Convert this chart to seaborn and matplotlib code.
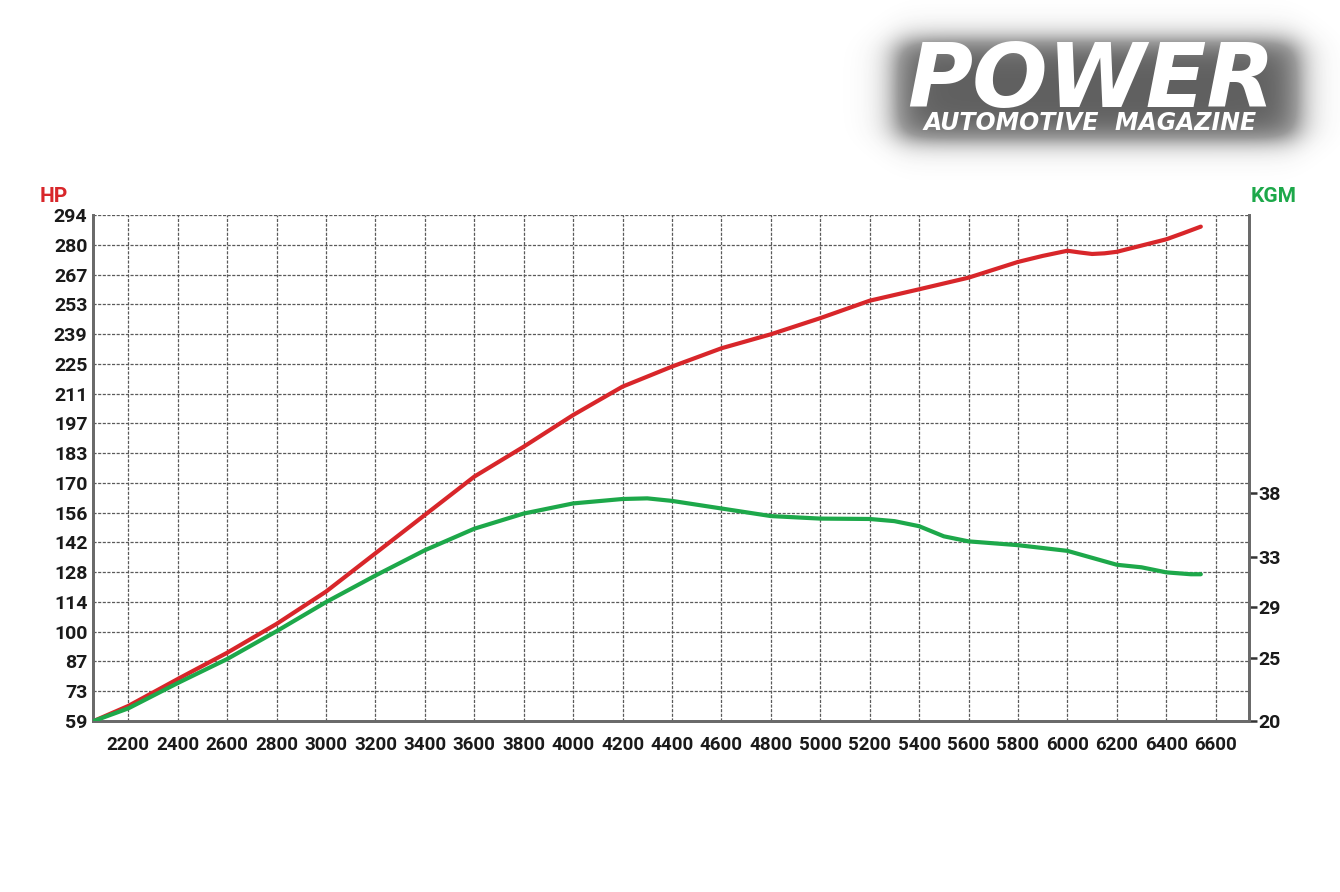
import numpy as np
import pandas as pd
import matplotlib
matplotlib.use('Agg')
import matplotlib.pyplot as plt
import seaborn as sns
from matplotlib.colors import LinearSegmentedColormap

# dyno run
rpm_hp = [2060, 2200, 2400, 2600, 2800, 3000, 3200, 3400, 3600, 3800, 4000, 4200,
          4400, 4600, 4800, 5000, 5200, 5400, 5600, 5800, 5900, 6000, 6050, 6100,
          6150, 6200, 6300, 6400, 6470, 6540]
hp = [59.0, 66.0, 78.5, 90.7, 104.1, 119.1, 136.9, 154.7, 172.5, 186.4, 201.1, 214.3,
      223.6, 232.1, 238.6, 246.1, 254.2, 259.5, 264.9, 272.2, 275.0, 277.4, 276.6, 275.9,
      276.2, 276.9, 279.8, 282.7, 285.6, 288.6]

rpm_tq = [2060, 2200, 2400, 2600, 2800, 3000, 3200, 3400, 3600, 3800, 4000, 4200, 4300,
          4400, 4600, 4800, 5000, 5200, 5300, 5400, 5500, 5600, 5800, 6000, 6100, 6200,
          6300, 6400, 6500, 6540]
kgm = [20.0, 21.0, 23.0, 24.9, 27.1, 29.4, 31.5, 33.5, 35.2, 36.4, 37.2, 37.55, 37.6,
       37.4, 36.8, 36.2, 36.0, 35.97, 35.8, 35.4, 34.6, 34.2, 33.9, 33.45, 32.9, 32.35,
       32.15, 31.75, 31.6, 31.6]

hp_labels = ['59', '73', '87', '100', '114', '128', '142', '156', '170', '183', '197',
             '211', '225', '239', '253', '267', '280', '294']
kgm_ticks = [20, 25, 29, 33, 38]
rpm_ticks = list(range(2200, 6601, 200))

RED = '#d8262a'
GREEN = '#1da84a'
INK = '#1a1a1a'

sns.set_style('white')
plt.rcParams['font.family'] = ['Roboto', 'DejaVu Sans']

df_hp = pd.DataFrame({'rpm': rpm_hp, 'hp': hp})
df_tq = pd.DataFrame({'rpm': rpm_tq, 'kgm': kgm})

fig = plt.figure(figsize=(13.4, 8.92), dpi=100)
ax = fig.add_axes([93 / 1340, 171 / 892, (1249 - 93) / 1340, (721 - 215) / 892])
ax2 = ax.twinx()

sns.lineplot(data=df_hp, x='rpm', y='hp', ax=ax, color=RED, linewidth=3, zorder=5)
sns.lineplot(data=df_tq, x='rpm', y='kgm', ax=ax2, color=GREEN, linewidth=3, zorder=5)

ax.set_xlim(2057, 6735)
ax.set_ylim(59, 294)
ax2.set_ylim(20, 60)

hp_pos = np.linspace(59, 294, len(hp_labels))
ax.set_yticks(hp_pos)
ax.set_yticklabels(hp_labels)
ax.set_xticks(rpm_ticks)
ax.set_xticklabels([str(r) for r in rpm_ticks])
ax2.set_yticks(kgm_ticks)
ax2.set_yticklabels([str(k) for k in kgm_ticks])

ax.grid(True, color='#5a5a5a', linestyle=(0, (2.5, 1.2)), linewidth=0.9)
ax.set_axisbelow(True)
ax.set_xlabel('')
ax.set_ylabel('')
ax2.set_ylabel('')

ax.tick_params(axis='y', length=0, pad=4, labelsize=14, labelcolor=INK)
ax.tick_params(axis='x', length=0, pad=11, labelsize=13.5, labelcolor=INK)
ax2.tick_params(axis='y', length=6, width=1.8, color='#333333', pad=1,
                labelsize=14, labelcolor=INK, direction='out')
for lab in ax.get_xticklabels() + ax.get_yticklabels() + ax2.get_yticklabels():
    lab.set_fontweight('bold')

for a in (ax, ax2):
    a.spines['top'].set_visible(False)
    for s in ('left', 'right', 'bottom'):
        a.spines[s].set_color('#6a6a6a')
        a.spines[s].set_linewidth(2)

fig.text(40 / 1340, 1 - 196 / 892, 'HP', color=RED, fontsize=15, fontweight='bold',
         va='center', ha='left')
fig.text(1297 / 1340, 1 - 196 / 892, 'KGM', color=GREEN, fontsize=15, fontweight='bold',
         va='center', ha='right')

# logo block: blurred grey plate behind white lettering
lx0, lx1, ly0, ly1 = 820, 1340, 0, 180
logo_ax = fig.add_axes([lx0 / 1340, 1 - ly1 / 892, (lx1 - lx0) / 1340, (ly1 - ly0) / 892],
                       zorder=-1)
gx = np.linspace(lx0, lx1, 520)
gy = np.linspace(ly0, ly1, 180)
sx = 1 / (1 + np.exp(-(gx - 898) / 10)) * 1 / (1 + np.exp((gx - 1297) / 10))
sy = 1 / (1 + np.exp(-(gy - 42) / 8)) * 1 / (1 + np.exp((gy - 138) / 8))
plate = np.outer(sy, sx)
glow = LinearSegmentedColormap.from_list('glow', ['#ffffff', '#9a9a9a', '#606060'])
logo_ax.imshow(plate, cmap=glow, vmin=0, vmax=1, aspect='auto', interpolation='bilinear')
logo_ax.axis('off')

fig.text(1091 / 1340, 1 - 107 / 892, 'POWER', color='white', fontsize=64,
         fontweight='black', fontstyle='italic', ha='center', va='baseline',
         family=['DejaVu Sans'])
fig.text(1090 / 1340, 1 - 130 / 892, 'AUTOMOTIVE  MAGAZINE', color='white', fontsize=17,
         fontweight='bold', fontstyle='italic', ha='center', va='baseline',
         family=['DejaVu Sans'])

fig.savefig('out.png', dpi=100, facecolor='white')
